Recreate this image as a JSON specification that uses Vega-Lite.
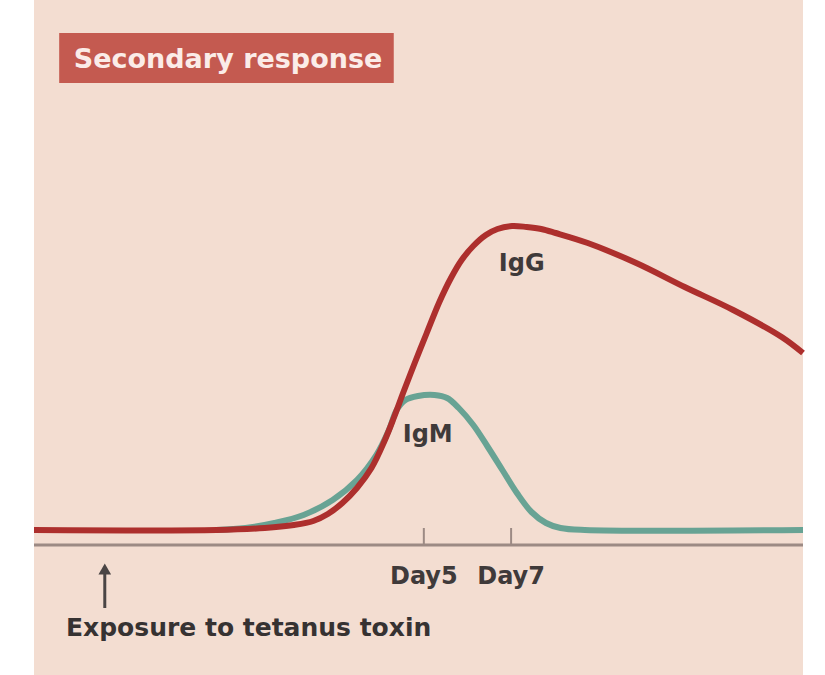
{
  "$schema": "https://vega.github.io/schema/vega-lite/v6.json",
  "autosize": {"type": "fit", "contains": "padding"},
  "width": 825,
  "height": 675,
  "padding": {"left": 22, "right": 10, "top": 0, "bottom": 0},
  "background": "#ffffff",
  "config": {"view": {"stroke": null, "fill": "#f3ddd1"}},
  "encoding": {
    "x": {"field": "x", "type": "quantitative", "scale": {"domain": [-3.933, 13.689], "nice": false, "zero": false}, "axis": null},
    "y": {"field": "y", "type": "quantitative", "scale": {"domain": [-1.3, 5.45], "nice": false, "zero": false}, "axis": null}
  },
  "layer": [
    {
      "data": {"values": [{"x": -3.356, "x2": 4.311, "y": 5.12, "y2": 4.62}]},
      "mark": {"type": "rect", "color": "#c45a50"},
      "encoding": {"x2": {"field": "x2"}, "y2": {"field": "y2"}}
    },
    {
      "data": {"values": [{"x": -3.022, "y": 4.85, "label": "Secondary response"}]},
      "mark": {"type": "text", "align": "left", "baseline": "middle", "font": "DejaVu Sans", "fontWeight": "bold", "fontSize": 27, "color": "#fbece8"},
      "encoding": {"text": {"field": "label"}}
    },
    {
      "data": {"values": [{"x": -3.933, "x2": 13.689, "y": 0}]},
      "mark": {"type": "rule", "color": "#9c8a84", "strokeWidth": 3},
      "encoding": {"x2": {"field": "x2"}}
    },
    {
      "data": {"values": [{"x": 5, "y": 0, "y2": 0.17}, {"x": 7, "y": 0, "y2": 0.17}]},
      "mark": {"type": "rule", "color": "#9c8a84", "strokeWidth": 2},
      "encoding": {"y2": {"field": "y2"}}
    },
    {
      "data": {"values": [
        {"series": "IgM", "x": 0.244, "y": 0.15},
        {"series": "IgM", "x": 0.911, "y": 0.17},
        {"series": "IgM", "x": 1.578, "y": 0.22},
        {"series": "IgM", "x": 2.244, "y": 0.30},
        {"series": "IgM", "x": 2.911, "y": 0.45},
        {"series": "IgM", "x": 3.467, "y": 0.65},
        {"series": "IgM", "x": 3.911, "y": 0.90},
        {"series": "IgM", "x": 4.2, "y": 1.15},
        {"series": "IgM", "x": 4.378, "y": 1.35},
        {"series": "IgM", "x": 4.578, "y": 1.45},
        {"series": "IgM", "x": 4.867, "y": 1.49},
        {"series": "IgM", "x": 5.244, "y": 1.50},
        {"series": "IgM", "x": 5.533, "y": 1.47},
        {"series": "IgM", "x": 5.8, "y": 1.37},
        {"series": "IgM", "x": 6.133, "y": 1.20},
        {"series": "IgM", "x": 6.467, "y": 0.98},
        {"series": "IgM", "x": 6.8, "y": 0.75},
        {"series": "IgM", "x": 7.133, "y": 0.52},
        {"series": "IgM", "x": 7.467, "y": 0.33},
        {"series": "IgM", "x": 7.8, "y": 0.22},
        {"series": "IgM", "x": 8.133, "y": 0.17},
        {"series": "IgM", "x": 8.689, "y": 0.15},
        {"series": "IgM", "x": 13.689, "y": 0.15},
        {"series": "IgG", "x": -3.933, "y": 0.15},
        {"series": "IgG", "x": 0.244, "y": 0.15},
        {"series": "IgG", "x": 1.356, "y": 0.17},
        {"series": "IgG", "x": 2.022, "y": 0.20},
        {"series": "IgG", "x": 2.467, "y": 0.24},
        {"series": "IgG", "x": 2.8, "y": 0.31},
        {"series": "IgG", "x": 3.133, "y": 0.42},
        {"series": "IgG", "x": 3.467, "y": 0.57},
        {"series": "IgG", "x": 3.8, "y": 0.77},
        {"series": "IgG", "x": 4.089, "y": 1.03},
        {"series": "IgG", "x": 4.311, "y": 1.27},
        {"series": "IgG", "x": 4.533, "y": 1.53},
        {"series": "IgG", "x": 4.8, "y": 1.83},
        {"series": "IgG", "x": 5.067, "y": 2.12},
        {"series": "IgG", "x": 5.356, "y": 2.43},
        {"series": "IgG", "x": 5.622, "y": 2.67},
        {"series": "IgG", "x": 5.867, "y": 2.85},
        {"series": "IgG", "x": 6.133, "y": 2.99},
        {"series": "IgG", "x": 6.422, "y": 3.10},
        {"series": "IgG", "x": 6.689, "y": 3.16},
        {"series": "IgG", "x": 7.022, "y": 3.19},
        {"series": "IgG", "x": 7.356, "y": 3.18},
        {"series": "IgG", "x": 7.689, "y": 3.16},
        {"series": "IgG", "x": 8.022, "y": 3.12},
        {"series": "IgG", "x": 8.756, "y": 3.02},
        {"series": "IgG", "x": 9.867, "y": 2.82},
        {"series": "IgG", "x": 10.978, "y": 2.58},
        {"series": "IgG", "x": 12.089, "y": 2.35},
        {"series": "IgG", "x": 13.2, "y": 2.08},
        {"series": "IgG", "x": 13.689, "y": 1.92}
      ]},
      "mark": {"type": "line", "interpolate": "catmull-rom", "strokeWidth": 6, "strokeCap": "butt"},
      "encoding": {
        "color": {"field": "series", "type": "nominal", "scale": {"domain": ["IgM", "IgG"], "range": ["#68a394", "#ad2f2d"]}, "legend": null},
        "order": {"field": "x", "type": "quantitative"}
      }
    },
    {
      "data": {"values": [
        {"x": 7.244, "y": 2.81, "label": "IgG"},
        {"x": 5.089, "y": 1.1, "label": "IgM"},
        {"x": 5, "y": -0.32, "label": "Day5"},
        {"x": 7, "y": -0.32, "label": "Day7"}
      ]},
      "mark": {"type": "text", "align": "center", "baseline": "middle", "font": "DejaVu Sans", "fontWeight": "bold", "fontSize": 24, "color": "#3f3a3a"},
      "encoding": {"text": {"field": "label"}}
    },
    {
      "data": {"values": [{"x": -3.2, "y": -0.83, "label": "Exposure to tetanus toxin"}]},
      "mark": {"type": "text", "align": "left", "baseline": "middle", "font": "DejaVu Sans", "fontWeight": "bold", "fontSize": 25, "color": "#363232"},
      "encoding": {"text": {"field": "label"}}
    },
    {
      "data": {"values": [{"x": -2.311, "y": -0.63, "y2": -0.25}]},
      "mark": {"type": "rule", "color": "#4a4545", "strokeWidth": 3},
      "encoding": {"y2": {"field": "y2"}}
    },
    {
      "data": {"values": [{"x": -2.311, "y": -0.24}]},
      "mark": {"type": "point", "shape": "triangle-up", "filled": true, "size": 160, "color": "#4a4545", "opacity": 1}
    }
  ]
}
